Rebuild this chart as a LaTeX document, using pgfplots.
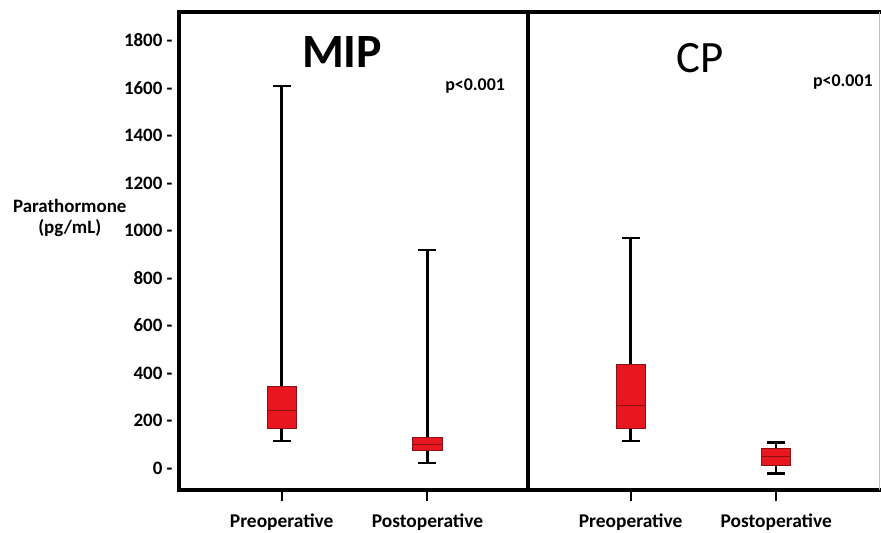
\documentclass[border=0pt]{standalone}
\usepackage{pgfplots}
\pgfplotsset{compat=1.18}
\usepackage{fontspec}
\setmainfont{Carlito}
\definecolor{boxred}{HTML}{E8161E}
\definecolor{boxdark}{HTML}{8A1016}
\pgfplotsset{
  common/.style={
    scale only axis,
    width=349bp, height=478bp,
    xmin=0.295, xmax=2.69,
    ymin=-92, ymax=1920,
    xtick={1,2},
    xticklabels={Preoperative,Postoperative},
    xticklabel style={font=\fontsize{19.5}{21}\selectfont\bfseries, yshift=-9bp},
    x tick style={black, line width=2bp},
    tick align=outside,
    xtick pos=bottom,
    major tick length=11bp,
    axis line style={line width=3.2bp},
    clip=false,
  },
  whisk/.style={black, line width=2.6bp, mark=none},
  boxs/.style={draw=boxdark, fill=boxred, line width=0.8bp, mark=none},
  med/.style={draw=boxdark, line width=0.8bp, mark=none},
}
% box: position, lower whisker, Q1, median, Q3, upper whisker
\newcommand{\mybox}[6]{%
  \addplot[whisk] coordinates {(#1,#5) (#1,#6)};
  \addplot[whisk] coordinates {(#1,#2) (#1,#3)};
  \addplot[whisk] coordinates {(#1-0.062,#6) (#1+0.062,#6)};
  \addplot[whisk] coordinates {(#1-0.062,#2) (#1+0.062,#2)};
  \addplot[boxs] coordinates {(#1-0.1,#3) (#1+0.1,#3) (#1+0.1,#5) (#1-0.1,#5)} -- cycle;
  \addplot[med] coordinates {(#1-0.1,#4) (#1+0.1,#4)};
}
\begin{document}
\begin{tikzpicture}
\begin{axis}[common, name=mip,
  ytick={0,200,400,600,800,1000,1200,1400,1600,1800},
  ytick pos=left,
  y tick style={draw=none},
  /pgf/number format/assume math mode=true,
  /pgf/number format/1000 sep={},
  yticklabel={\pgfmathprintnumber{\tick}~-},
  yticklabel style={font=\fontsize{19}{21}\selectfont\bfseries, xshift=8bp},
]
\mybox{1}{115}{167}{244}{342}{1608}
\mybox{2}{22}{76}{101}{129}{918}
\node[font=\fontsize{48}{52}\selectfont\bfseries] at (axis cs:1.414,1751) {MIP};
\node[font=\fontsize{18}{20}\selectfont\bfseries] at (axis cs:2.327,1608) {p<0.001};
\node[font=\fontsize{19}{22}\selectfont\bfseries, align=center, anchor=east, xshift=-49bp] at (axis cs:0.295,1053) {Parathormone\\(pg/mL)};
\end{axis}
\begin{axis}[common, name=cp, at={(mip.south east)}, anchor=south west,
  width=353bp, xmax=2.72,
  ytick=\empty,
  axis line style={draw=none},
]
\mybox{1}{114}{167}{265}{438}{968}
\mybox{2}{-22}{13}{51}{83}{107}
\draw[line width=3.2bp] (rel axis cs:0,0) -- (rel axis cs:1,0);
\draw[line width=3.2bp] (rel axis cs:0,1) -- (rel axis cs:1,1);
\draw[line width=3.2bp] (rel axis cs:0,0) -- (rel axis cs:0,1);
\draw[line width=1bp, black!25] ([xshift=-1.5bp]rel axis cs:1,0) -- ([xshift=-1.5bp]rel axis cs:1,1);
\node[font=\fontsize{45}{49}\selectfont] at (axis cs:1.476,1726) {CP};
\node[font=\fontsize{18}{20}\selectfont\bfseries] at (axis cs:2.458,1625) {p<0.001};
\end{axis}
\pgfresetboundingbox
\path (mip.south west) ++(-179bp,-43bp) rectangle ++(881bp,533bp);
\end{tikzpicture}
\end{document}
